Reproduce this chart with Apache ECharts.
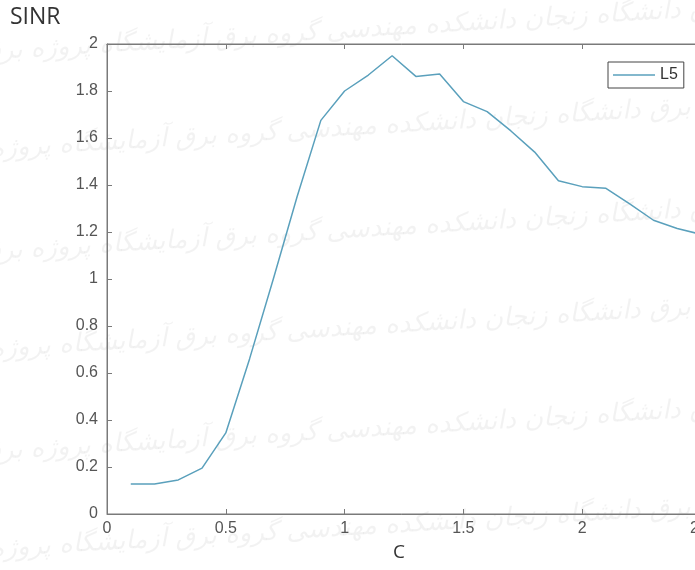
<!DOCTYPE html>
<html>
<head>
<meta charset="utf-8">
<script src="https://cdn.jsdelivr.net/npm/echarts@6/dist/echarts.min.js"></script>
<style>
html,body{margin:0;padding:0;background:#fff;}
#chart{width:695px;height:570px;}
</style>
</head>
<body>
<div id="chart"></div>
<script>
// Data
var cValues = [0.1, 0.2, 0.3, 0.4, 0.5, 0.6, 0.7, 0.8, 0.9, 1.0, 1.1, 1.2, 1.3, 1.4, 1.5, 1.6, 1.7, 1.8, 1.9, 2.0, 2.1, 2.2, 2.3, 2.4, 2.5];
var sinrL5 = [0.128, 0.128, 0.145, 0.195, 0.345, 0.66, 1.0, 1.35, 1.675, 1.80, 1.868, 1.95, 1.862, 1.872, 1.755, 1.712, 1.63, 1.54, 1.418, 1.393, 1.386, 1.32, 1.25, 1.215, 1.19];
var seriesName = 'L5';
var yTitle = 'SINR';
var xTitle = 'C';
var watermarkText = 'گروه برق آزمایشگاه پروژه برق دانشگاه زنجان دانشکده مهندسی گروه برق آزمایشگاه پروژه برق';

var chart = echarts.init(document.getElementById('chart'), null, {renderer: 'canvas'});
var pts = cValues.map(function (c, i) { return [c, sinrL5[i]]; });

var axisColor = '#7a7a7a';
var labelColor = '#555';
var wmRows = [40, 140, 240, 340, 440, 540];
var wm = wmRows.map(function (y, i) {
  return {
    type: 'text', z: -10, silent: true,
    x: (i % 2 ? -60 : -20), y: y, rotation: 0.06,
    style: { text: watermarkText, fill: 'rgba(0,0,0,0.05)', font: 'italic 26px "DejaVu Sans"' }
  };
});

chart.setOption({
  backgroundColor: '#fff',
  animation: false,
  grid: { left: 107, top: 44, right: -6, bottom: 56, show: true, borderColor: axisColor, borderWidth: 1, outerBoundsMode: 'none', containLabel: false },
  legend: {
    show: true, left: 608, top: 62,
    data: [seriesName],
    icon: 'rect', itemWidth: 42, itemHeight: 1.5, itemGap: 0,
    padding: [5, 6, 5, 5],
    borderColor: '#444', borderWidth: 1, borderRadius: 0,
    backgroundColor: '#fff',
    textStyle: { fontFamily: 'Liberation Sans, Arial', fontSize: 16, color: '#333', padding: [0, 0, 0, 0] }
  },
  xAxis: [{
    type: 'value', min: 0, max: 2.5, interval: 0.5,
    axisLine: { show: true, lineStyle: { color: axisColor } },
    axisTick: { show: true, inside: true, length: 5, lineStyle: { color: axisColor } },
    axisLabel: { color: labelColor, fontFamily: 'Liberation Sans, Arial', fontSize: 16, margin: 7 },
    splitLine: { show: false }
  }, {
    type: 'value', min: 0, max: 2.5, interval: 0.5, position: 'top',
    axisLine: { show: true, lineStyle: { color: axisColor } },
    axisTick: { show: true, inside: true, length: 5, lineStyle: { color: axisColor } },
    axisLabel: { show: false },
    splitLine: { show: false }
  }],
  yAxis: [{
    type: 'value', min: 0, max: 2, interval: 0.2,
    axisLine: { show: true, lineStyle: { color: axisColor } },
    axisTick: { show: true, inside: true, length: 5, lineStyle: { color: axisColor } },
    axisLabel: { color: labelColor, fontFamily: 'Liberation Sans, Arial', fontSize: 16, margin: 9 },
    splitLine: { show: false }
  }],
  series: [{
    name: seriesName, type: 'line', data: pts,
    showSymbol: false, symbol: 'none',
    lineStyle: { color: '#5aa0bc', width: 1.5 },
    itemStyle: { color: '#5aa0bc' },
    z: 5
  }],
  graphic: wm.concat([
    { type: 'text', left: 10, top: 6, style: { text: yTitle, fill: '#333', font: '23px "Open Sans"' } },
    { type: 'text', left: 393, top: 543, style: { text: xTitle, fill: '#333', font: '19px "Open Sans"' } }
  ])
});
</script>
</body>
</html>
